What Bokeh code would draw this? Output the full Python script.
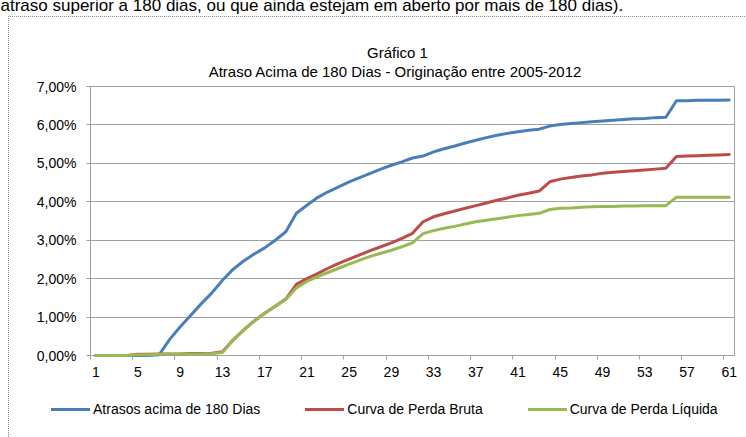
from bokeh.plotting import figure
from bokeh.models import (Range1d, FixedTicker, LinearAxis, Legend, LegendItem, Label)
from bokeh.embed import file_html
from bokeh.resources import INLINE

# ---------------- data ----------------
periods = list(range(1, 62))
atrasos = [0, 0, 0, 0, 0, 0, 0.02, 0.42, 0.75, 1.05, 1.35, 1.63, 1.96, 2.24, 2.46, 2.64,
           2.80, 3.00, 3.22, 3.70, 3.91, 4.11, 4.26, 4.39, 4.52, 4.63, 4.74, 4.85, 4.95,
           5.04, 5.14, 5.19, 5.30, 5.38, 5.45, 5.53, 5.60, 5.67, 5.73, 5.78, 5.82, 5.86,
           5.89, 5.97, 6.01, 6.04, 6.06, 6.08, 6.10, 6.12, 6.14, 6.16, 6.17, 6.19, 6.20,
           6.63, 6.63, 6.64, 6.64, 6.64, 6.65]
perda_bruta = [0, 0, 0, 0, 0.03, 0.03, 0.04, 0.04, 0.04, 0.05, 0.05, 0.06, 0.10, 0.40,
               0.66, 0.90, 1.10, 1.28, 1.47, 1.85, 2.00, 2.13, 2.27, 2.40, 2.51, 2.62,
               2.73, 2.83, 2.93, 3.05, 3.18, 3.48, 3.61, 3.69, 3.76, 3.83, 3.90, 3.97,
               4.04, 4.10, 4.17, 4.22, 4.28, 4.52, 4.59, 4.63, 4.67, 4.70, 4.74, 4.77,
               4.79, 4.81, 4.83, 4.85, 4.87, 5.18, 5.19, 5.20, 5.21, 5.22, 5.23]
perda_liquida = [0, 0, 0, 0, 0.02, 0.02, 0.03, 0.03, 0.03, 0.04, 0.04, 0.05, 0.08, 0.40,
                 0.66, 0.90, 1.10, 1.28, 1.46, 1.76, 1.93, 2.05, 2.16, 2.27, 2.38, 2.48,
                 2.58, 2.66, 2.74, 2.83, 2.93, 3.17, 3.25, 3.31, 3.36, 3.42, 3.48, 3.52,
                 3.56, 3.60, 3.64, 3.67, 3.70, 3.80, 3.83, 3.84, 3.86, 3.87, 3.88, 3.88,
                 3.89, 3.89, 3.90, 3.90, 3.90, 4.12, 4.12, 4.12, 4.12, 4.12, 4.12]
series_names = ["Atrasos acima de 180 Dias", "Curva de Perda Bruta", "Curva de Perda Líquida"]
y_ticks = [0, 1, 2, 3, 4, 5, 6, 7]
y_labels = ["0,00%", "1,00%", "2,00%", "3,00%", "4,00%", "5,00%", "6,00%", "7,00%"]
x_label_ticks = list(range(1, 62, 4))
header_text = "atraso superior a 180 dias, ou que ainda estejam em aberto por mais de 180 dias)."
title_1 = "Gráfico 1"
title_2 = "Atraso Acima de 180 Dias - Originação entre  2005-2012"

# ---------------- layout / style ----------------
colors = ["#4A7EBB", "#BE4B48", "#98B954"]
FONT = "Liberation Sans"
GRID = "#a0a0a0"

# The root is shifted up/left by 8px; canvas coords = page coords + 8.
W, H = 754, 445
PX_PER_CAT = 644 / 61.0       # plot area 644px wide for 61 categories
PX_PER_PCT = 269 / 7.0        # plot area 269px tall for 0..7 %
PA_LEFT, PA_TOP = 98, 94      # plot-area corner on the canvas
x0, x1 = 0.5, 61.5
y0, y1 = 0.0, 7.0
x_start = x0 - PA_LEFT / PX_PER_CAT
x_end = x1 + (W - PA_LEFT - 644) / PX_PER_CAT
y_end = y1 + PA_TOP / PX_PER_PCT
y_start = y0 - (H - PA_TOP - 269) / PX_PER_PCT

dots_h = "repeating-linear-gradient(to right, #8a8a8a 0px, #8a8a8a 1px, transparent 1px, transparent 2px)"
dots_v = "repeating-linear-gradient(to bottom, #8a8a8a 0px, #8a8a8a 1px, transparent 1px, transparent 2px)"

p = figure(width=W, height=H, output_backend="svg", toolbar_location=None,
           x_range=Range1d(x_start, x_end), y_range=Range1d(y_start, y_end),
           x_axis_type=None, y_axis_type=None,
           min_border=0, min_border_left=0, min_border_right=0,
           min_border_top=0, min_border_bottom=0,
           margin=(-8, 0, -8, -8),
           styles={"background-image": dots_h + ", " + dots_v,
                   "background-size": "100% 1px, 1px 100%",
                   "background-position": "16px 24px, 16px 24px",
                   "background-repeat": "no-repeat, no-repeat"})
p.background_fill_alpha = 0
p.border_fill_alpha = 0
p.outline_line_color = None

# y axis (its inward ticks form the horizontal gridlines)
yaxis = LinearAxis(ticker=FixedTicker(ticks=y_ticks), fixed_location=x0, bounds=(y0, y1),
                   major_label_overrides={t: l for t, l in zip(y_ticks, y_labels)})
yaxis.level = "underlay"
yaxis.axis_line_color = GRID
yaxis.major_tick_line_color = GRID
yaxis.major_tick_out = 4
yaxis.major_tick_in = 644
yaxis.minor_tick_line_color = None
yaxis.major_label_standoff = 10
yaxis.major_label_text_font = FONT
yaxis.major_label_text_font_size = "14px"
yaxis.major_label_text_color = "#000000"
p.add_layout(yaxis, "left")

# right edge of the plot area
redge = LinearAxis(ticker=FixedTicker(ticks=[]), fixed_location=x1, bounds=(y0, y1))
redge.level = "underlay"
redge.axis_line_color = GRID
redge.major_tick_line_color = None
redge.minor_tick_line_color = None
p.add_layout(redge, "right")

# x axis: labels at category centres, tick marks between categories
xaxis = LinearAxis(ticker=FixedTicker(ticks=x_label_ticks,
                                      minor_ticks=[c - 0.5 for c in x_label_ticks]),
                   fixed_location=y0, bounds=(x0, x1))
xaxis.level = "underlay"
xaxis.axis_line_color = GRID
xaxis.major_tick_line_color = None
xaxis.major_tick_out = 4
xaxis.major_tick_in = 0
xaxis.minor_tick_line_color = GRID
xaxis.minor_tick_out = 4
xaxis.minor_tick_in = 0
xaxis.major_label_standoff = 7
xaxis.major_label_text_font = FONT
xaxis.major_label_text_font_size = "14px"
xaxis.major_label_text_color = "#000000"
p.add_layout(xaxis, "below")

renderers = []
for ys, c in zip([atrasos, perda_bruta, perda_liquida], colors):
    r = p.line(periods, ys, line_color=c, line_width=3, line_join="round", line_cap="round")
    renderers.append(r)

legend = Legend(items=[LegendItem(label=n, renderers=[r]) for n, r in zip(series_names, renderers)],
                location=(59, 20), orientation="horizontal", padding=0, margin=0, spacing=45,
                glyph_width=39, glyph_height=16, label_height=16, label_standoff=3,
                label_text_font=FONT, label_text_font_size="14px",
                label_text_color="#000000", border_line_color=None,
                background_fill_alpha=0)
p.add_layout(legend, "center")

# texts (screen units: x from canvas left, y up from canvas bottom)
p.add_layout(Label(x=8, y=H - 13, x_units="screen", y_units="screen",
                   text=header_text, text_font=FONT, text_font_size="17px",
                   text_align="left", text_baseline="alphabetic", text_color="#000000"))
p.add_layout(Label(x=405, y=H - 60, x_units="screen", y_units="screen",
                   text=title_1, text_font=FONT, text_font_size="15px",
                   text_align="center", text_baseline="middle", text_color="#000000"))
p.add_layout(Label(x=405, y=H - 79, x_units="screen", y_units="screen",
                   text=title_2, text_font=FONT, text_font_size="15px",
                   text_align="center", text_baseline="middle", text_color="#000000"))

open("out.html", "w").write(file_html(p, INLINE))
